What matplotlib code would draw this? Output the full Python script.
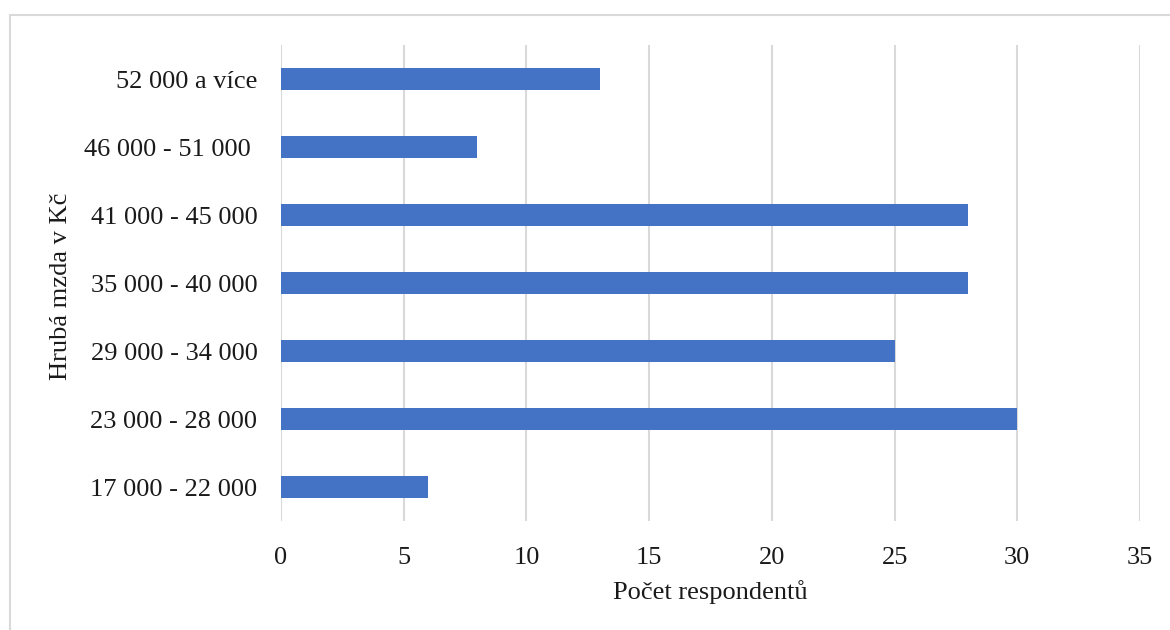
import matplotlib
matplotlib.use("Agg")
import matplotlib.pyplot as plt
from matplotlib.patches import Rectangle

categories = ["17 000 - 22 000", "23 000 - 28 000", "29 000 - 34 000",
              "35 000 - 40 000", "41 000 - 45 000", "46 000 - 51 000 ", "52 000 a více"]
values = [6, 30, 25, 28, 28, 8, 13]
xticks = [0, 5, 10, 15, 20, 25, 30, 35]

plt.rcParams['font.family'] = ['Liberation Serif', 'DejaVu Serif']

fig = plt.figure(figsize=(11.7, 6.3), dpi=100)
ax = fig.add_axes([281/1170, 1-521/630, (1140-281)/1170, (521-45)/630])

ypos = list(range(len(categories)))
ax.barh(ypos, values, height=0.31, color="#4472C4", zorder=3)
ax.set_ylim(-0.5, len(categories)-0.5)
ax.set_xlim(0, 35)
ax.set_xticks(xticks)
ax.set_xticklabels([str(t) for t in xticks])
ax.set_yticks(ypos)
ax.set_yticklabels(categories)
ax.tick_params(axis='both', length=0, labelsize=19, colors='#1a1a1a')
ax.tick_params(axis='y', pad=17)
ax.tick_params(axis='x', pad=18.5)
ax.grid(axis='x', color='#d9d9d9', linewidth=1.5, zorder=0)
for s in ax.spines.values():
    s.set_visible(False)

fig.text(710/1170, 1-592/630, "Počet respondentů", ha='center', va='center', fontsize=19, color='#1a1a1a')
fig.text(61/1170, 1-286/630, "Hrubá mzda v Kč", ha='center', va='center', rotation=90, fontsize=19, color='#1a1a1a')

fig.patches.append(Rectangle((10/1170, -0.05), 1.2, 1-15/630+0.05, transform=fig.transFigure,
                             fill=False, edgecolor='#d9d9d9', linewidth=1.5))

fig.savefig("out.png", dpi=100)
